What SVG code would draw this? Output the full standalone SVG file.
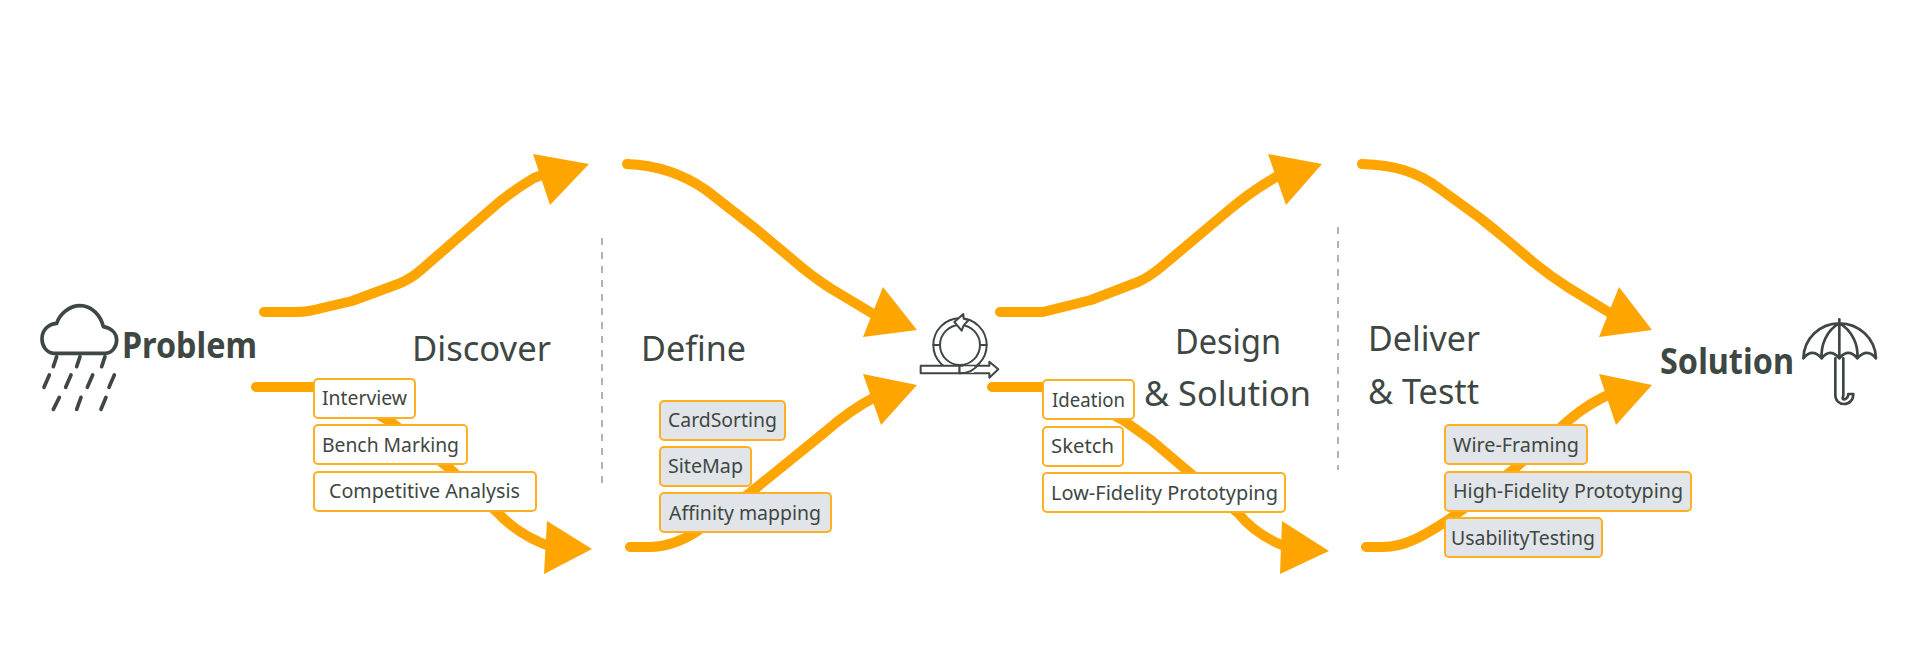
<svg xmlns="http://www.w3.org/2000/svg" width="1920" height="656" viewBox="0 0 1920 656">
<style>
.c{fill:none;stroke:#FFA500;stroke-width:10;stroke-linecap:round;stroke-linejoin:round}
.h{fill:#FFA500}
.b{fill:#fff;stroke:#FFB020;stroke-width:2}
.g{fill:#E1E5E9;stroke:#FFB020;stroke-width:2}
text{font-family:"Noto Sans","Open Sans",sans-serif;fill:#3E4743}
.t{font-size:19px}
.s{font-size:35px}
.p{font-size:36px;font-weight:700}
.d{stroke:#9A9A9A;stroke-width:1.5;stroke-dasharray:7 7;fill:none}
.i{fill:none;stroke:#3E4743;stroke-linecap:round;stroke-linejoin:round}
.w{fill:#fff;stroke:#3E4743;stroke-linejoin:round;stroke-width:6}
</style>
<rect width="1920" height="656" fill="#fff"/>
<g id="connectors">
<path class="c" d="M264 312H296Q308 312 322 308L352 301L398 284Q411 279 422 269L490 210Q510 192 534 178L550 172"/>
<polygon class="h" points="533,154 589,164 550,205"/>
<path class="c" d="M256 387H330L391 422L449 468L497 512Q520 537 555 548"/>
<polygon class="h" points="547,521 592,549 544,574"/>
<path class="c" d="M627 164C655 165 680 172 706 190L756 229Q775 245 793 260Q810 275 830 288L880 318"/>
<polygon class="h" points="883,287 917,330 863,337"/>
<path class="c" d="M630 547H650Q672 547 696 532L751 492L825 432Q850 410 875 397"/>
<polygon class="h" points="863,374 917,385 881,425"/>
<path class="c" d="M1000 312H1043L1091 300L1138 282Q1149 277 1160 268L1229 210Q1255 188 1285 172"/>
<polygon class="h" points="1268,154 1322,164 1286,205"/>
<path class="c" d="M992 387H1060L1123 420L1151 440L1190 473L1238 513Q1258 538 1295 550"/>
<polygon class="h" points="1282,521 1329,551 1280,574"/>
<path class="c" d="M1362 164C1395 165 1418 172 1440 189L1480 218Q1494 229 1507 240L1533 262Q1550 276 1569 288L1620 319"/>
<polygon class="h" points="1619,287 1652,330 1599,337"/>
<path class="c" d="M1366 547H1383C1405 547 1425 535 1445 522L1462 510L1513 470L1569 420Q1590 402 1615 392"/>
<polygon class="h" points="1599,374 1652,385 1616,425"/>
</g>
<path id="divider-1" class="d" d="M602 238V483"/>
<path id="divider-2" class="d" d="M1338 227V470"/>
<g id="problem">
<g transform="translate(20 290) scale(.3333)">
<path class="i" stroke-width="11" d="M100 190C78 187 66 167 66 146C66 120 85 102 110 100C120 70 150 47 180 47C215 47 242 75 250 110C275 115 290 130 290 150C290 172 275 190 255 190Z"/>
<path class="i" stroke-width="11" stroke-linecap="butt" d="M110 200L100 230M180 200L170 230M255 200L245 230M88 255L72 292M153 255L137 292M218 255L202 292M283 255L267 292M118 322L100 358M183 322L170 358M258 322L243 358"/>
</g>
<text class="p" x="122" y="358" textLength="135" lengthAdjust="spacingAndGlyphs">Problem</text>
</g>
<g id="discover"><text class="s" x="412" y="361" textLength="139" lengthAdjust="spacingAndGlyphs">Discover</text></g>
<g id="define"><text class="s" x="641" y="361" textLength="105" lengthAdjust="spacingAndGlyphs">Define</text></g>
<g id="design"><text class="s" x="1175" y="354" textLength="106" lengthAdjust="spacingAndGlyphs">Design</text><text class="s" x="1144" y="406" textLength="167" lengthAdjust="spacingAndGlyphs">&amp; Solution</text></g>
<g id="deliver"><text class="s" x="1368" y="351" textLength="112" lengthAdjust="spacingAndGlyphs">Deliver</text><text class="s" x="1368" y="404" textLength="111" lengthAdjust="spacingAndGlyphs">&amp; Testt</text></g>
<g id="iterate" transform="translate(900 300) scale(.3333)">
<circle class="i" stroke-width="6" cx="180" cy="135" r="80"/>
<circle class="i" stroke-width="6" cx="180" cy="135" r="60"/>
<path class="i" stroke-width="6" d="M100 135H120M240 135H260"/>
<path class="w" d="M178 197H268V185L295 208L268 233V220H178Z"/>
<path class="w" d="M62 197H178V220H62Z"/>
<path d="M190 199H222V218H190Z" fill="#fff"/>
<path class="i" stroke-width="6" d="M180 220C205 220 225 210 238 190"/>
<path class="w" d="M190 42L163 66L185 92L191 76L206 60L191 56Z"/>
</g>
<g id="solution">
<text class="p" x="1660" y="374" textLength="134" lengthAdjust="spacingAndGlyphs">Solution</text>
<g transform="translate(1780 310) scale(.3333)">
<path class="i" stroke-width="8" d="M70 145C72 85 120 40 178 40C236 40 286 85 288 145Q262 112 232 145Q205 112 178 145Q150 112 125 145Q97 112 70 145ZM178 28V145M178 40C140 60 122 105 125 145M178 40C216 60 236 105 232 145M166 145V255C166 272 178 282 192 282C208 282 220 270 220 252H205C205 262 198 268 192 268C184 268 190 262 190 255V145"/>
</g>
</g>
<g id="interview"><rect class="b" x="314" y="379" width="101" height="39" rx="4"/><text class="t" x="322" y="405" textLength="85" lengthAdjust="spacingAndGlyphs">Interview</text></g>
<g id="bench-marking"><rect class="b" x="314" y="425" width="153" height="39" rx="4"/><text class="t" x="322" y="452" textLength="137" lengthAdjust="spacingAndGlyphs">Bench Marking</text></g>
<g id="competitive-analysis"><rect class="b" x="314" y="472" width="222" height="39" rx="4"/><text class="t" x="329" y="498" textLength="191" lengthAdjust="spacingAndGlyphs">Competitive Analysis</text></g>
<g id="card-sorting"><rect class="g" x="660" y="401" width="125" height="39" rx="4"/><text class="t" x="668" y="427" textLength="109" lengthAdjust="spacingAndGlyphs">CardSorting</text></g>
<g id="site-map"><rect class="g" x="660" y="447" width="91" height="39" rx="4"/><text class="t" x="668" y="473" textLength="75" lengthAdjust="spacingAndGlyphs">SiteMap</text></g>
<g id="affinity-mapping"><rect class="g" x="660" y="493" width="171" height="39" rx="4"/><text class="t" x="669" y="520" textLength="152" lengthAdjust="spacingAndGlyphs">Affinity mapping</text></g>
<g id="ideation"><rect class="b" x="1043" y="380" width="91" height="39" rx="4"/><text class="t" x="1052" y="407" textLength="73" lengthAdjust="spacingAndGlyphs">Ideation</text></g>
<g id="sketch"><rect class="b" x="1043" y="427" width="80" height="39" rx="4"/><text class="t" x="1051" y="453" textLength="63" lengthAdjust="spacingAndGlyphs">Sketch</text></g>
<g id="low-fidelity"><rect class="b" x="1043" y="473" width="242" height="39" rx="4"/><text class="t" x="1051" y="500" textLength="227" lengthAdjust="spacingAndGlyphs">Low-Fidelity Prototyping</text></g>
<g id="wire-framing"><rect class="g" x="1445" y="425" width="142" height="39" rx="4"/><text class="t" x="1453" y="452" textLength="126" lengthAdjust="spacingAndGlyphs">Wire-Framing</text></g>
<g id="high-fidelity"><rect class="g" x="1445" y="472" width="246" height="39" rx="4"/><text class="t" x="1453" y="498" textLength="230" lengthAdjust="spacingAndGlyphs">High-Fidelity Prototyping</text></g>
<g id="usability-testing"><rect class="g" x="1445" y="518" width="157" height="39" rx="4"/><text class="t" x="1451" y="545" textLength="144" lengthAdjust="spacingAndGlyphs">UsabilityTesting</text></g>
</svg>
